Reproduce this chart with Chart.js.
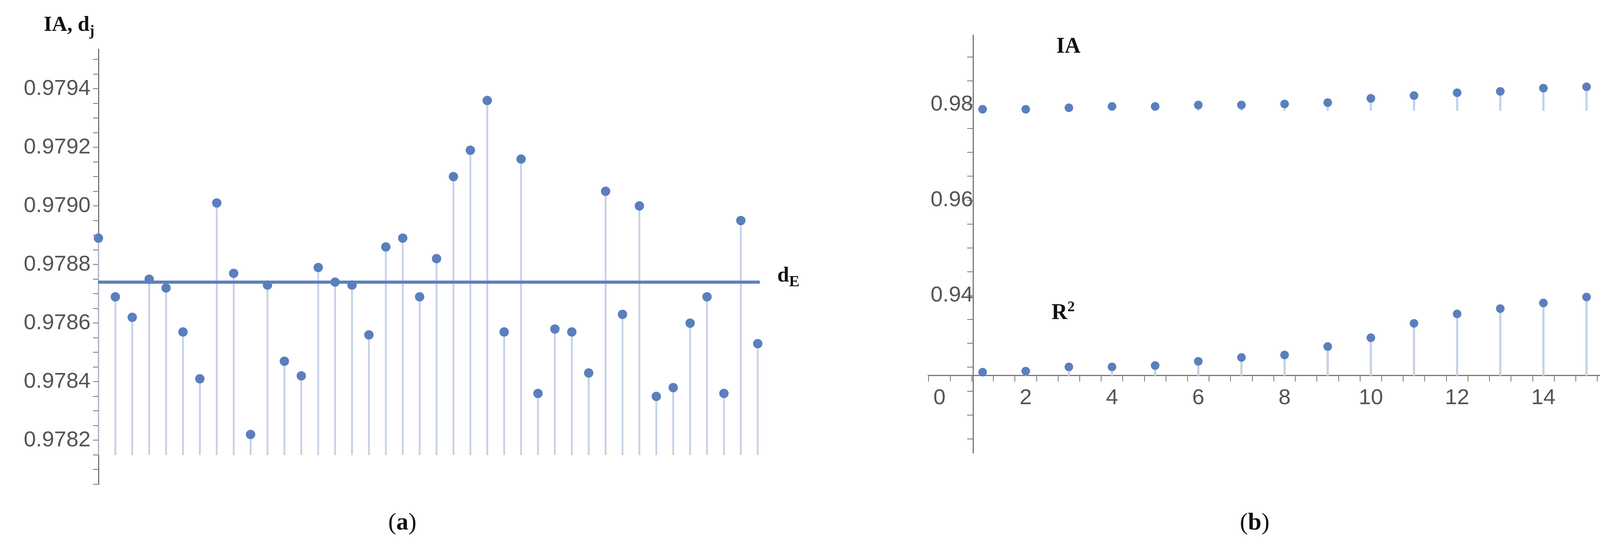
<!DOCTYPE html>
<html><head><meta charset="utf-8">
<script src="https://cdn.jsdelivr.net/npm/chart.js@4"></script>
<style>
body{margin:0;background:#fff;width:4113px;height:1393px;position:relative;overflow:hidden}
canvas{position:absolute;left:0;top:0}
.lb{position:absolute;font-family:"Liberation Serif",serif;font-weight:bold;color:#111;white-space:nowrap}
.cap{position:absolute;font-family:"Liberation Serif",serif;font-size:62px;color:#111;transform:translateX(-50%)}
</style></head><body>
<div style="position:absolute;left:0;top:0;width:2100px;height:1393px"><canvas id="a" width="2100" height="1393" style="width:2100px;height:1393px"></canvas></div>
<div style="position:absolute;left:2200px;top:0;width:1913px;height:1393px"><canvas id="b" width="1913" height="1393" style="width:1913px;height:1393px"></canvas></div>
<div class="lb" style="left:112px;top:30px;font-size:54px">IA, d<sub style="font-size:38px">j</sub></div>
<div class="lb" style="left:1990px;top:672px;font-size:54px">d<sub style="font-size:40px">E</sub></div>
<div class="lb" style="left:2704px;top:84px;font-size:56px">IA</div>
<div class="lb" style="left:2692px;top:762px;font-size:56px">R<sup style="font-size:38px">2</sup></div>
<div class="cap" style="left:1030px;top:1300px">(<b>a</b>)</div>
<div class="cap" style="left:3212px;top:1300px">(<b>b</b>)</div>
<script>
// Panel (a)
const idxA = Array.from({length:40},(_,i)=>i+1);
const valuesA = [0.97889,0.97869,0.97862,0.97875,0.97872,0.97857,0.97841,0.97901,0.97877,0.97822,
0.97873,0.97847,0.97842,0.97879,0.97874,0.97873,0.97856,0.97886,0.97889,0.97869,
0.97882,0.97910,0.97919,0.97936,0.97857,0.97916,0.97836,0.97858,0.97857,0.97843,
0.97905,0.97863,0.97900,0.97835,0.97838,0.97860,0.97869,0.97836,0.97895,0.97853];
const baseA = 0.97815;
const dE = 0.97874;
const yTicksA = [0.9782,0.9784,0.9786,0.9788,0.9790,0.9792,0.9794];
// Panel (b)
const idxB = [1,2,3,4,5,6,7,8,9,10,11,12,13,14,15];
const iaB = [0.97904,0.97904,0.97934,0.97963,0.97963,0.97993,0.97993,0.98015,0.98044,0.98132,0.98191,0.98250,0.98279,0.98346,0.98375];
const r2B = [0.92397,0.92420,0.92508,0.92508,0.92537,0.92625,0.92706,0.92758,0.92934,0.93118,0.93420,0.93618,0.93728,0.93846,0.93971];
const iaBase = 0.97875, r2Base = 0.92324;
const xTicksB = [0,2,4,6,8,10,12,14];
const yTicksB = [0.94,0.96,0.98];

const PT='#5a7fbd', STEM='#c5d1e7', AX='#777', TXT='#555';
const tickFont={family:'"Liberation Sans", Arial, sans-serif',size:56};

function range(a,b,s){const r=[];const n=Math.round((b-a)/s);for(let i=0;i<=n;i++)r.push({value:+(a+i*s).toFixed(6)});return r;}
const isMaj=(v,list)=>list.some(t=>Math.abs(t-v)<1e-9);

new Chart(document.getElementById('a'),{
 type:'bar',
 data:{datasets:[
  {type:'line',data:[{x:1,y:dE},{x:40.12,y:dE}],borderColor:'#5a80bb',borderWidth:8,pointRadius:0,clip:false},
  {type:'scatter',data:idxA.map((x,i)=>({x,y:valuesA[i]})),backgroundColor:PT,borderWidth:0,pointRadius:12,clip:false},
  {type:'bar',data:idxA.map((x,i)=>({x,y:[baseA,valuesA[i]]})),backgroundColor:STEM,barThickness:4,grouped:false}
 ]},
 options:{responsive:false,animation:false,devicePixelRatio:1,
  layout:{padding:{left:0,top:126,right:155,bottom:153}},
  plugins:{legend:{display:false},tooltip:{enabled:false}},
  scales:{
   x:{type:'linear',min:1,max:40.12,offset:false,display:false},
   y:{min:0.97805,max:0.979535,afterFit:s=>{s.width=252;},
     afterBuildTicks:s=>{s.ticks=range(0.97805,0.9795,0.00005);},
     grid:{drawOnChartArea:false,color:AX,tickLength:14,lineWidth:2},
     border:{color:AX,width:3},
     ticks:{font:tickFont,color:TXT,padding:6,autoSkip:false,
       callback:v=>isMaj(v,yTicksA)?v.toFixed(4):''}}
  }}
});

new Chart(document.getElementById('b'),{
 type:'bar',
 data:{datasets:[
  {type:'scatter',data:idxB.map((x,i)=>({x,y:iaB[i]})),backgroundColor:PT,borderWidth:0,pointRadius:11,clip:false},
  {type:'scatter',data:idxB.map((x,i)=>({x,y:r2B[i]})),backgroundColor:PT,borderWidth:0,pointRadius:11,clip:false},
  {type:'bar',data:idxB.map((x,i)=>({x,y:[iaBase,iaB[i]]})),backgroundColor:STEM,barThickness:5,grouped:false},
  {type:'bar',data:idxB.map((x,i)=>({x,y:[r2Base,r2B[i]]})),backgroundColor:STEM,barThickness:5,grouped:false}
 ]},
 options:{responsive:false,animation:false,devicePixelRatio:1,
  layout:{padding:{left:176,top:90,right:15,bottom:233}},
  plugins:{legend:{display:false},tooltip:{enabled:false}},
  scales:{
   x:{type:'linear',min:-0.263,max:15.33,offset:false,position:{y:r2Base},
     afterBuildTicks:s=>{s.ticks=range(0,15,0.5);},
     grid:{drawOnChartArea:false,color:AX,tickLength:14,lineWidth:2},
     border:{color:AX,width:3},
     ticks:{font:tickFont,color:TXT,padding:10,autoSkip:false,maxRotation:0,
       callback:v=>isMaj(v,xTicksB)?String(v):''}},
   y:{min:0.90704,max:0.99456,position:{x:0.78},
     afterBuildTicks:s=>{s.ticks=range(0.91,0.99,0.005);},
     grid:{drawOnChartArea:false,color:AX,tickLength:14,lineWidth:2},
     border:{color:AX,width:3},
     ticks:{font:tickFont,color:TXT,padding:6,autoSkip:false,
       callback:v=>isMaj(v,yTicksB)?v.toFixed(2):''}}
  }}
});
</script></body></html>
